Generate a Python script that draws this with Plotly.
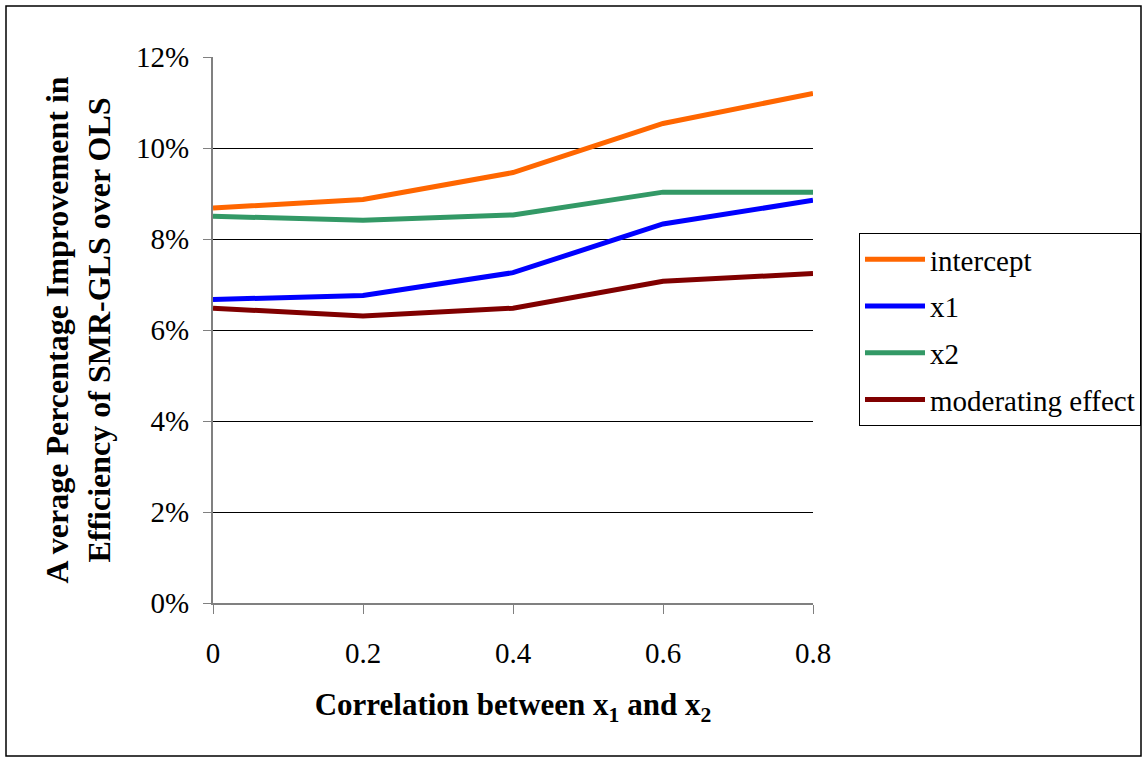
import plotly.graph_objects as go

# Correlation between x1 and x2
correlation = [0, 0.2, 0.4, 0.6, 0.8]
x_tick_labels = ["0", "0.2", "0.4", "0.6", "0.8"]

# Average percentage improvement in efficiency of SMR-GLS over OLS
intercept = [0.0868, 0.0887, 0.0946, 0.1054, 0.1120]
x1 = [0.0667, 0.0676, 0.0726, 0.0833, 0.0885]
x2 = [0.0850, 0.0841, 0.0853, 0.0903, 0.0903]
moderating = [0.0648, 0.0631, 0.0648, 0.0707, 0.0724]

series = [
    ("intercept", intercept, "#FF6600"),
    ("x1", x1, "#0000FF"),
    ("x2", x2, "#339966"),
    ("moderating effect", moderating, "#800000"),
]

W, H = 1142, 760
ML, MR, MT, MB = 213, 329, 57, 157
FONT = "Liberation Serif"

fig = go.Figure()
for i, (name, vals, color) in enumerate(series):
    fig.add_trace(go.Scatter(
        x=correlation, y=vals, name=name, mode="lines",
        line=dict(color=color, width=5),
        legendgroup=f"g{i}",
    ))

pw = W - ML - MR
ph = H - MT - MB
# outer chart border
fig.add_shape(
    type="rect", xref="paper", yref="paper",
    x0=(6 - ML) / pw, x1=(W - 1 - ML) / pw,
    y0=-(H - 4 - MT - ph) / ph, y1=1 + (MT - 6) / ph,
    line=dict(color="black", width=1.5), layer="below",
)

fig.update_layout(
    width=W, height=H,
    margin=dict(l=ML, r=MR, t=MT, b=MB, autoexpand=False),
    paper_bgcolor="white", plot_bgcolor="white",
    font=dict(family=FONT, size=29, color="black"),
    showlegend=True,
    legend=dict(
        xref="container", yref="container",
        x=859 / W, xanchor="left",
        y=1 - 233 / H, yanchor="top",
        bordercolor="black", borderwidth=1,
        bgcolor="white",
        font=dict(family=FONT, size=29, color="black"),
        tracegroupgap=6,
        itemwidth=60,
    ),
    xaxis=dict(
        range=[0, 0.8], tickvals=correlation, ticktext=x_tick_labels,
        showgrid=False, zeroline=False,
        showline=True, linecolor="#808080", linewidth=2,
        ticks="outside", ticklen=9, tickcolor="#808080", tickwidth=1,
        ticklabelstandoff=14,
        tickfont=dict(family=FONT, size=29, color="black"),
        title=dict(
            text="<b>Correlation between x<sub>1</sub> and x<sub>2</sub></b>",
            font=dict(family=FONT, size=31, color="black"), standoff=26,
        ),
    ),
    yaxis=dict(
        range=[0, 0.12], dtick=0.02, tickformat=".0%",
        showgrid=True, gridcolor="black", gridwidth=1,
        zeroline=False,
        showline=True, linecolor="#808080", linewidth=2,
        ticks="outside", ticklen=8, tickcolor="#808080", tickwidth=1,
        ticklabelstandoff=8,
        tickfont=dict(family=FONT, size=29, color="black"),
        title=dict(
            text="<b>A verage Percentage Improvement in<br>Efficiency of SMR-GLS over OLS</b>",
            font=dict(family=FONT, size=32, color="black"), standoff=16,
        ),
    ),
)

fig.write_html("out.html")
